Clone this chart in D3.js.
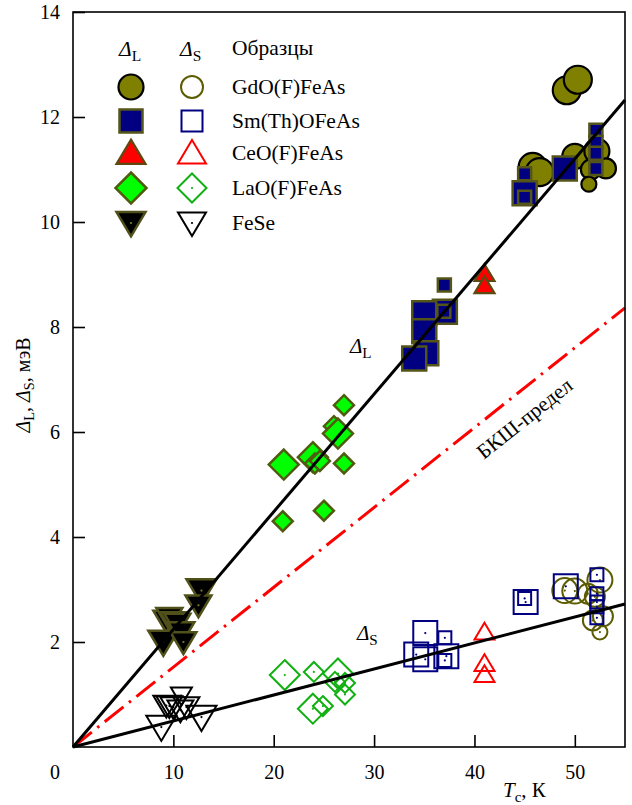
<!DOCTYPE html>
<html>
<head>
<meta charset="utf-8">
<script src="https://cdn.jsdelivr.net/npm/d3@7"></script>
<style>
  body { margin: 0; background: #fff; }
  svg text { font-family: "Liberation Serif", Tinos, "Times New Roman", "DejaVu Serif", serif !important; fill: #000; }
</style>
</head>
<body>
<svg id="chart" width="632" height="805"></svg>
<script>
// Gap values (meV) vs. critical temperature Tc (K); third field is the marker class (0..3)
// Large gap, Δ_L
const gdL = [[45.8,11.05,3],[46.5,10.95,3],[49.2,12.51,3],[50.3,12.71,3],[50.0,11.25,2],[52.2,11.35,2],[51.6,11.0,1],[53.1,11.02,1],[51.4,10.72,0]];
const smL = [[45.0,10.55,3],[45.0,10.47,1],[45.0,10.92,1],[49.0,11.02,3],[52.1,11.75,1],[52.1,11.52,1],[52.1,11.31,1],[52.1,11.02,1],[37.0,8.80,1],[37.05,8.29,3],[36.95,8.30,1],[35.0,8.26,3],[35.0,7.92,3],[35.2,7.50,3],[34.0,7.40,3]];
const ceL = [[41.0,9.02,1],[41.0,8.79,1]];
const laL = [[27.0,6.51,1],[26.0,6.11,1],[26.4,5.97,3],[21.0,5.38,3],[23.9,5.52,3],[24.1,5.40,1],[24.6,5.45,1],[27.0,5.40,1],[25.0,4.50,1],[20.9,4.30,1]];
const feL = [[12.8,2.98,3],[12.5,2.70,2],[9.3,2.41,2],[9.6,2.46,2],[10.0,2.38,2],[10.4,2.35,2],[9.0,2.00,3],[10.8,2.19,2],[11.0,2.00,2]];
// Small gap, Δ_S
const gdS = [[49.0,2.98,2],[50.0,2.97,2],[52.5,3.18,2],[51.3,2.92,1],[52.0,2.86,1],[51.8,2.41,1],[52.8,2.49,1],[52.5,2.19,0]];
const smS = [[35.1,2.17,3],[34.2,1.76,3],[35.1,1.67,3],[37.2,1.73,3],[37.05,1.65,1],[37.05,2.08,1],[45.1,2.76,3],[45.0,2.83,1],[49.1,3.06,3],[52.2,3.28,1],[52.2,2.92,1],[52.2,2.76,1],[52.2,2.67,1],[52.2,2.46,1]];
const ceS = [[41.0,2.19,1],[41.0,1.59,1],[41.0,1.38,1]];
const laS = [[21.1,1.37,3],[24.0,1.43,1],[26.4,1.40,3],[26.1,1.24,1],[27.1,1.22,1],[27.1,1.00,1],[23.9,0.73,3],[24.9,0.78,1]];
const feS = [[10.8,0.98,1],[9.3,0.79,2],[9.6,0.78,2],[10.0,0.76,2],[10.7,0.70,2],[11.3,0.76,2],[8.8,0.38,3],[12.8,0.57,3]];

// Characteristic ratios 2Δ/kTc of the three straight lines
const ratioL = 5.2;
const ratioBCS = 3.53;
const ratioS = 1.15;
const kB = 0.08617; // meV/K

const sampleNames = ["GdO(F)FeAs", "Sm(Th)OFeAs", "CeO(F)FeAs", "LaO(F)FeAs", "FeSe"];
const xTicks = [10, 20, 30, 40, 50];
const yTicks = [2, 4, 6, 8, 10, 12, 14];

const W = 632, H = 805;
const m = { left: 73, right: 7, top: 12, bottom: 58 };
const FONT = '"Liberation Serif", Tinos, "Times New Roman", "DejaVu Serif", serif';
const svg = d3.select("#chart");

const x = d3.scaleLinear().domain([0, 55]).range([m.left, W - m.right]);
const y = d3.scaleLinear().domain([0, 14]).range([H - m.bottom, m.top]);

// marker size (px) per class for each shape
const sz = {
  circle: d3.scaleOrdinal().domain([0,1,2,3]).range([7.5, 10, 12.5, 14]),
  square: d3.scaleOrdinal().domain([0,1,2,3]).range([10, 13, 20, 24]),
  tri:    d3.scaleOrdinal().domain([0,1,2,3]).range([14, 20, 24, 28]),
  diamond:d3.scaleOrdinal().domain([0,1,2,3]).range([7, 10, 12, 15]),
  down:   d3.scaleOrdinal().domain([0,1,2,3]).range([16, 21, 26, 30])
};

function shapePath(shape, s) {
  const p = d3.path();
  if (shape === "circle") { p.moveTo(s, 0); p.arc(0, 0, s, 0, 2 * Math.PI); p.closePath(); }
  else if (shape === "square") { p.rect(-s / 2, -s / 2, s, s); }
  else if (shape === "tri") { const h = s * 0.84; p.moveTo(0, -h * 0.55); p.lineTo(s / 2, h * 0.45); p.lineTo(-s / 2, h * 0.45); p.closePath(); }
  else if (shape === "down") { const h = s * 0.84; p.moveTo(-s / 2, -h * 0.45); p.lineTo(s / 2, -h * 0.45); p.lineTo(0, h * 0.55); p.closePath(); }
  else if (shape === "diamond") { p.moveTo(0, -s); p.lineTo(s, 0); p.lineTo(0, s); p.lineTo(-s, 0); p.closePath(); }
  return p.toString();
}

const filled = [
  { data: gdL, shape: "circle",  fill: "#808000", stroke: "#000000", sw: 2.2 },
  { data: smL, shape: "square",  fill: "#000080", stroke: "#55551a", sw: 2.5 },
  { data: ceL, shape: "tri",     fill: "#ff0000", stroke: "#5e4a10", sw: 2.2 },
  { data: laL, shape: "diamond", fill: "#00ff00", stroke: "#4f5c10", sw: 2.5 },
  { data: feL, shape: "down",    fill: "#000000", stroke: "#50501a", sw: 2.5, dot: "#80802a" }
];
const open = [
  { data: gdS, shape: "circle",  stroke: "#5c5c00", sw: 2, dot: "#5c5c00" },
  { data: smS, shape: "square",  stroke: "#000080", sw: 2, dot: "#000080" },
  { data: ceS, shape: "tri",     stroke: "#ff0000", sw: 2 },
  { data: laS, shape: "diamond", stroke: "#10b010", sw: 2, dot: "#10b010" },
  { data: feS, shape: "down",    stroke: "#000000", sw: 2, dot: "#000000" }
];

function drawSeries(g, s, isOpen) {
  const grp = g.append("g");
  const pts = grp.selectAll("g.pt").data(s.data).join("g")
    .attr("class", "pt")
    .attr("transform", d => `translate(${x(d[0])},${y(d[1])})`);
  pts.append("path")
    .attr("d", d => shapePath(s.shape, sz[s.shape](d[2])))
    .attr("fill", isOpen ? "none" : s.fill)
    .attr("stroke", s.stroke)
    .attr("stroke-width", s.sw)
    .attr("stroke-linejoin", "miter");
  if (s.dot) pts.append("circle").attr("r", 1.1).attr("fill", s.dot);
}

const marks = svg.append("g");
open.forEach(s => drawSeries(marks, s, true));
filled.forEach(s => drawSeries(marks, s, false));

// Straight lines through the origin: Δ = ratio·kB·Tc/2
const line = d3.line().x(d => x(d[0])).y(d => y(d[1]));
const ends = r => [[0, 0], [55, r * kB * 55 / 2]];
svg.append("path").attr("d", line(ends(ratioBCS))).attr("fill", "none")
  .attr("stroke", "#ff0000").attr("stroke-width", 3).attr("stroke-dasharray", "24,7,2.5,7");
svg.append("path").attr("d", line(ends(ratioL))).attr("fill", "none")
  .attr("stroke", "#000").attr("stroke-width", 3);
svg.append("path").attr("d", line(ends(ratioS))).attr("fill", "none")
  .attr("stroke", "#000").attr("stroke-width", 3);

// Frame
svg.append("rect").attr("x", m.left).attr("y", m.top)
  .attr("width", W - m.left - m.right).attr("height", H - m.top - m.bottom)
  .attr("fill", "none").attr("stroke", "#000").attr("stroke-width", 1.6);

// Axes with inward ticks
const xAxis = svg.append("g").attr("transform", `translate(0,${y(0)})`)
  .call(d3.axisBottom(x).tickValues(xTicks).tickSize(-12).tickPadding(18).tickFormat(d3.format("d")));
const yAxis = svg.append("g").attr("transform", `translate(${x(0)},0)`)
  .call(d3.axisLeft(y).tickValues(yTicks).tickSize(-12).tickPadding(13).tickFormat(d3.format("d")));
[xAxis, yAxis].forEach(a => {
  a.attr("font-family", FONT).attr("font-size", 20);
  a.select(".domain").remove();
  a.selectAll(".tick line").attr("stroke", "#000").attr("stroke-width", 1.6);
  a.selectAll(".tick text").attr("font-size", 20).attr("font-family", FONT);
});
// common origin label
svg.append("text").attr("x", 55).attr("y", y(0) + 18).attr("dy", "0.71em")
  .attr("text-anchor", "middle").attr("font-size", 20).text("0");

// helper for Δ with subscript
function deltaSub(sel, sub, fs) {
  sel.append("tspan").attr("font-style", "italic").text("Δ");
  sel.append("tspan").attr("font-size", fs * 0.72).attr("dy", fs * 0.22).text(sub);
}

// Axis titles
const yt = svg.append("text").attr("transform", `translate(30,385) rotate(-90)`)
  .attr("text-anchor", "middle").attr("font-size", 20);
deltaSub(yt, "L", 20);
yt.append("tspan").attr("dy", -20 * 0.22).text(", ");
deltaSub(yt, "S", 20);
yt.append("tspan").attr("dy", -20 * 0.22).text(", мэВ");

const xt = svg.append("text").attr("x", 503).attr("y", 797).attr("font-size", 21);
xt.append("tspan").attr("font-style", "italic").text("T");
xt.append("tspan").attr("font-size", 15).attr("dy", 4.6).text("c");
xt.append("tspan").attr("dy", -4.6).text(", К");

// Line labels
deltaSub(svg.append("text").attr("x", 350).attr("y", 353).attr("font-size", 21), "L", 21);
deltaSub(svg.append("text").attr("x", 357).attr("y", 640).attr("font-size", 21), "S", 21);
const ang = Math.atan2(y(0) - y(ratioBCS * kB * 55 / 2), x(55) - x(0)) * 180 / Math.PI;
svg.append("text").attr("transform", `translate(529,424) rotate(${-ang})`)
  .attr("text-anchor", "middle").attr("font-size", 21).text("БКШ-предел");

// Legend
const lg = svg.append("g");
const colF = 131, colO = 192, colT = 232;
const rows = [87, 121, 153, 188, 223];
const LF = 21.5;
deltaSub(lg.append("text").attr("x", colF - 12).attr("y", 56).attr("font-size", LF), "L", LF);
deltaSub(lg.append("text").attr("x", colO - 12).attr("y", 56).attr("font-size", LF), "S", LF);
lg.append("text").attr("x", colT).attr("y", 55).attr("font-size", LF).text("Образцы");
const legF = [12.5, 23, 29, 15.5, 29];
const legO = [11, 21, 28, 14.5, 28];
filled.forEach((s, i) => {
  const g = lg.append("g").attr("transform", `translate(${colF},${rows[i]})`);
  g.append("path").attr("d", shapePath(s.shape, legF[i])).attr("fill", s.fill)
    .attr("stroke", s.stroke).attr("stroke-width", s.sw);
  if (s.dot) g.append("circle").attr("r", 1.1).attr("fill", s.dot);
});
open.forEach((s, i) => {
  const g = lg.append("g").attr("transform", `translate(${colO},${rows[i]})`);
  g.append("path").attr("d", shapePath(s.shape, legO[i])).attr("fill", "none")
    .attr("stroke", s.stroke).attr("stroke-width", s.sw);
  if (s.shape === "diamond" || s.shape === "down") g.append("circle").attr("r", 1.1).attr("fill", s.dot);
});
sampleNames.forEach((n, i) => {
  lg.append("text").attr("x", colT).attr("y", rows[i] + 7).attr("font-size", LF).text(n);
});
// every text element gets the serif stack explicitly
svg.selectAll("text").attr("font-family", FONT);
</script>
</body>
</html>
